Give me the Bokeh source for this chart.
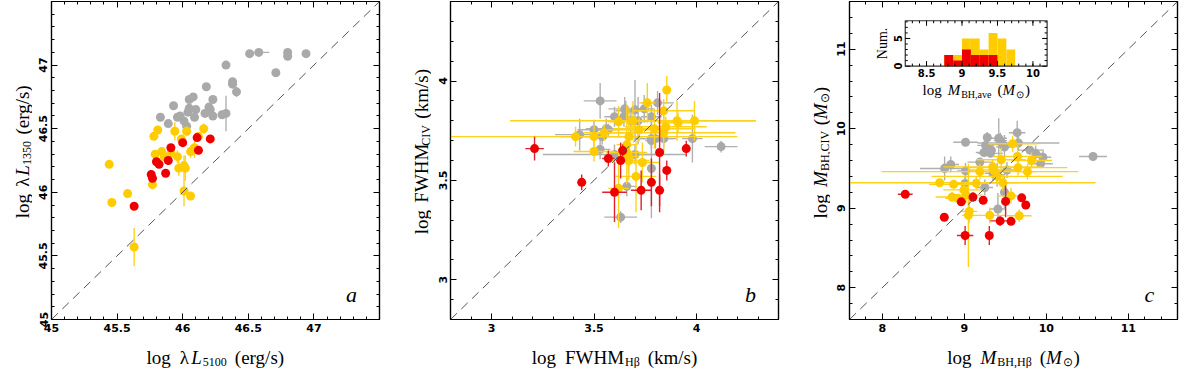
import numpy as np
from bokeh.plotting import figure
from bokeh.layouts import row, column
from bokeh.models import Range1d, LinearAxis, FixedTicker, CustomJSTickFormatter, Slope, Label
from bokeh.embed import file_html
from bokeh.resources import INLINE
from bokeh.core.properties import value

# ---------------- colours ----------------
GRAY, GOLD, RED = "#A9A9A9", "#FFCC00", "#EE0000"
GRAY_E, GOLD_E, RED_E = "#B0B0B0", "#FFD21A", "#E0202E"

# ---------------- panel a : log L5100 vs log L1350 ----------------
a_gray_x = [46.51, 46.58, 46.80, 46.80, 46.94, 46.33, 46.71, 46.38, 46.38, 46.41, 46.18, 46.08, 46.05, 46.23, 45.93,
            46.05, 46.20, 46.21, 46.10, 46.04, 46.17, 46.23, 46.30, 46.33, 45.83, 45.98, 45.96, 46.09, 45.89, 46.01, 46.03]
a_gray_y = [47.09, 47.10, 47.10, 47.07, 47.09, 47.00, 46.94, 46.87, 46.85, 46.79, 46.83, 46.75, 46.73, 46.73, 46.68,
            46.66, 46.67, 46.65, 46.65, 46.63, 46.62, 46.60, 46.61, 46.62, 46.59, 46.60, 46.59, 46.59, 46.54, 46.56, 46.52]
a_gray_xe = [0, 0.08, 0, 0, 0, 0, 0, 0, 0, 0, 0, 0, 0, 0, 0, 0, 0, 0, 0, 0, 0, 0, 0, 0.03, 0, 0, 0, 0, 0, 0, 0]
a_gray_ye = [0, 0, 0, 0, 0, 0, 0, 0, 0, 0.04, 0, 0, 0, 0, 0, 0, 0, 0, 0, 0, 0, 0, 0, 0.14, 0, 0, 0, 0, 0, 0, 0.03]

a_gold_x = [45.81, 45.78, 45.94, 46.03, 45.99, 46.12, 46.16, 45.79, 45.84, 45.86, 45.91, 45.96, 46.09, 46.06, 46.01,
            46.02, 45.97, 45.77, 45.44, 45.58, 45.46, 46.01, 46.06, 45.63]
a_gold_y = [46.49, 46.44, 46.48, 46.48, 46.42, 46.44, 46.50, 46.30, 46.32, 46.28, 46.31, 46.28, 46.35, 46.32, 46.21,
            46.19, 46.19, 46.06, 46.22, 45.99, 45.92, 46.01, 45.97, 45.57]
a_gold_xe = [0] * 24
a_gold_ye = [0, 0, 0.07, 0.04, 0.03, 0.03, 0.04, 0, 0.03, 0, 0, 0.05, 0.08, 0.05, 0.08,
             0.10, 0.06, 0, 0, 0, 0, 0.12, 0, 0.15]

a_red_x = [45.63, 45.76, 45.77, 45.80, 45.82, 45.87, 45.89, 45.91, 46.00, 46.11, 46.12, 46.21]
a_red_y = [45.89, 46.14, 46.11, 46.24, 46.22, 46.15, 46.25, 46.35, 46.39, 46.43, 46.33, 46.42]
a_red_xe = [0] * 12
a_red_ye = [0] * 12

# ---------------- panel b : log FWHM(Hb) vs log FWHM(CIV) ----------------
b_red_x = [3.21, 3.44, 3.57, 3.63, 3.64, 3.60, 3.73, 3.78, 3.82, 3.82, 3.855, 3.95]
b_red_y = [3.66, 3.49, 3.61, 3.60, 3.65, 3.44, 3.45, 3.49, 3.45, 3.64, 3.55, 3.66]
b_red_xe = [0.045, 0.01, 0.03, 0.02, 0.01, 0.06, 0.05, 0.02, 0.01, 0.01, 0.01, 0.01]
b_red_ye = [0.06, 0.04, 0.04, 0.09, 0.03, 0.15, 0.10, 0.12, 0.08, 0.30, 0.05, 0.04]

b_gold_x = [3.855, 3.76, 3.84, 3.905, 3.91, 3.99, 3.69, 3.41, 3.50, 3.55, 3.62, 3.67, 3.72, 3.795, 3.85, 3.84,
            3.50, 3.66, 3.66, 3.668, 3.67, 3.736, 3.705, 3.62]
b_gold_y = [3.955, 3.89, 3.85, 3.80, 3.79, 3.80, 3.80, 3.72, 3.72, 3.74, 3.795, 3.72, 3.755, 3.76, 3.77, 3.74,
            3.645, 3.68, 3.64, 3.62, 3.60, 3.59, 3.52, 3.46]
b_gold_xe = [0.02, 0.04, 0.15, 0.05, 0.10, 0.30, 0.60, 0.02, 0.70, 0.10, 0.05, 0.30, 0.15, 0.20, 0.20, 0.35,
             0.10, 0.05, 0.10, 0.05, 0.10, 0.08, 0.10, 0.05]
b_gold_ye = [0.07, 0.10, 0.06, 0.10, 0.05, 0.10, 0.10, 0.05, 0.06, 0.04, 0.08, 0.15, 0.06, 0.10, 0.05, 0.10,
             0.05, 0.20, 0.04, 0.08, 0.10, 0.10, 0.18, 0.20]

b_gray_x = [3.53, 3.65, 3.655, 3.70, 3.745, 3.81, 3.60, 3.646, 3.78, 3.68, 3.715, 3.50, 3.56, 3.57, 3.54, 3.43,
            3.78, 3.78, 3.80, 3.84, 3.98, 4.12, 3.53, 3.60, 3.70, 3.78, 3.66, 3.63]
b_gray_y = [3.90, 3.86, 3.85, 3.855, 3.86, 3.89, 3.82, 3.82, 3.82, 3.80, 3.80, 3.755, 3.76, 3.755, 3.72, 3.73,
            3.71, 3.70, 3.71, 3.71, 3.71, 3.67, 3.656, 3.63, 3.63, 3.56, 3.47, 3.315]
b_gray_xe = [0.08, 0.08, 0.05, 0.06, 0.05, 0.08, 0.05, 0.03, 0.05, 0.12, 0.05, 0.08, 0.10, 0.05, 0.20, 0.12,
             0.06, 0.03, 0.10, 0.05, 0.05, 0.08, 0.05, 0.35, 0.10, 0.01, 0.05, 0.08]
b_gray_ye = [0.09, 0.06, 0.05, 0.15, 0.07, 0.06, 0.05, 0.05, 0.06, 0.06, 0.12, 0.05, 0.05, 0.03, 0.04, 0.08,
             0.05, 0.04, 0.05, 0.05, 0.12, 0.03, 0.05, 0.05, 0.05, 0.25, 0.05, 0.03]

# ---------------- panel c : log M(Hb) vs log M(CIV) ----------------
c_gray_x = [9.015, 9.28, 9.26, 9.33, 9.32, 9.42, 9.44, 9.47, 9.49, 9.645, 9.66, 9.80, 9.87, 9.96, 9.93, 9.24,
            8.76, 8.835, 9.015, 9.19, 9.35, 9.40, 9.52, 9.25, 9.01, 9.49, 9.41, 10.57]
c_gray_y = [9.83, 9.89, 9.79, 9.73, 9.69, 9.88, 9.85, 9.80, 9.77, 9.95, 9.82, 9.73, 9.69, 9.64, 9.56, 9.70,
            9.50, 9.55, 9.47, 9.58, 9.44, 9.42, 9.48, 9.26, 9.31, 9.20, 8.99, 9.65]
c_gray_xe = [0.15, 0.05, 0.10, 0.05, 0.15, 0.10, 0.08, 0.15, 0.10, 0.10, 0.50, 0.15, 0.10, 0.10, 0.15, 0.10,
             0.30, 0.10, 0.10, 0.15, 0.10, 0.10, 0.10, 0.10, 0.15, 0.05, 0.10, 0.17]
c_gray_ye = [0.05, 0.07, 0.08, 0.05, 0.05, 0.25, 0.10, 0.07, 0.15, 0.15, 0.10, 0.05, 0.10, 0.10, 0.05, 0.05,
             0.15, 0.10, 0.10, 0.05, 0.10, 0.15, 0.10, 0.10, 0.10, 0.20, 0.20, 0.05]

c_gold_x = [8.70, 8.87, 8.915, 8.995, 9.02, 9.06, 9.05, 9.19, 9.345, 9.36, 9.45, 9.47, 9.57, 9.59, 9.65, 9.655,
            9.67, 9.77, 9.82, 9.31, 9.146, 8.85, 9.40]
c_gold_y = [9.32, 9.30, 9.125, 9.23, 9.165, 8.96, 8.91, 9.46, 9.52, 9.48, 9.61, 9.32, 9.155, 9.81, 9.65, 9.51,
            8.905, 9.46, 9.60, 8.91, 9.315, 9.14, 9.40]
c_gold_xe = [1.90, 0.30, 0.15, 0.25, 0.20, 0.10, 0.08, 1.20, 0.60, 0.30, 0.30, 0.20, 0.15, 0.30, 0.30, 0.60,
             0.15, 0.10, 0.25, 0.20, 0.15, 0.20, 0.80]
c_gold_ye = [0.05, 0.05, 0.05, 0.08, 0.10, 0.15, 0.65, 0.10, 0.10, 0.10, 0.15, 0.10, 0.10, 0.10, 0.15, 0.10,
             0.08, 0.10, 0.10, 0.10, 0.08, 0.06, 0.10]

c_red_x = [8.28, 8.756, 8.963, 9.01, 9.106, 9.23, 9.305, 9.437, 9.504, 9.57, 9.70, 9.75]
c_red_y = [9.176, 8.886, 9.08, 8.656, 9.14, 9.10, 8.656, 8.84, 9.085, 8.835, 9.13, 9.04]
c_red_xe = [0.09, 0.02, 0.05, 0.10, 0.03, 0.03, 0.02, 0.12, 0.03, 0.02, 0.02, 0.02]
c_red_ye = [0.03, 0.02, 0.04, 0.12, 0.06, 0.03, 0.12, 0.06, 0.20, 0.03, 0.03, 0.04]

# ---------------- inset histogram (log M_BH,ave) ----------------
HIST_EDGES = [8.75, 8.875, 9.0, 9.125, 9.25, 9.375, 9.5, 9.625, 9.75]
HIST_ALL = [2, 2, 5, 5, 3, 6, 5, 3]
HIST_RED = [2, 1, 3, 2, 2, 2, 0, 0]
INSET_XLIM = (8.2, 10.2)
INSET_YLIM = (0, 8.2)
INSET_XTICKS = [8.5, 9, 9.5, 10]
INSET_XTICK_LABELS = ["8.5", "9", "9.5", "10"]
INSET_YTICKS = [0, 5]
INSET_YTICK_LABELS = ["0", "5"]
INSET_BOX = (8.28, 10.01, 10.787, 11.358)   # where the inset sits, in panel-c data units

# ---------------- axes ----------------
A_LIM = (45, 47.5); A_MAJOR = [45, 45.5, 46, 46.5, 47]
B_LIM = (2.8, 4.4); B_MAJOR = [3, 3.5, 4]
C_LIM = (7.6, 11.6); C_MAJOR = [8, 9, 10, 11]

SERIF = "Liberation Serif"
TICKFONT = "DejaVu Sans"
FW, FH = 328, 318          # frame size
BL, BT, BB = 19, 1, 17     # borders of main figures (tick labels only)
YLW = 32                   # width of y-title strip
XLH = 32                   # height of x-title strip
MAIN_H = BT + FH + BB      # 336 -> page content 368 px high
BR_AB, BR_C = 20, 5        # right borders -> total width 399 + 399 + 384 = 1182
TS, SS = 19, 12            # title font size, subscript size
X_BASE, Y_BASE = 11, 22    # title baselines inside their strips

EM = {" ": 0.25, "l": 0.278, "o": 0.5, "g": 0.5, "(": 0.333, ")": 0.333, "e": 0.444, "r": 0.333, "/": 0.278,
      "s": 0.389, "k": 0.5, "m": 0.778, "F": 0.556, "W": 0.944, "H": 0.722, "M": 0.889, "C": 0.667, "I": 0.333,
      "V": 0.722, "B": 0.667, ",": 0.25, "a": 0.444, "v": 0.5, "λ": 0.55, "β": 0.5, "⊙": 0.8, "N": 0.722,
      "u": 0.5, ".": 0.25, "L": 0.611}
EM_IT = {"L": 0.556, "M": 0.833}


def text_w(t, size, italic):
    tot = 0.0
    for ch in t:
        if italic and ch in EM_IT:
            tot += EM_IT[ch]
        else:
            tot += EM.get(ch, 0.5)
    return tot * size


fmt = CustomJSTickFormatter(code="return String(Math.round(tick*100)/100);")


def style_axis(ax, major, minor, labels, vertical):
    ax.ticker = FixedTicker(ticks=major, minor_ticks=minor)
    ax.formatter = fmt
    ax.major_tick_in = 6
    ax.major_tick_out = 0
    ax.minor_tick_in = 3
    ax.minor_tick_out = 0
    ax.axis_line_color = "black"
    ax.axis_line_width = 1.2
    ax.major_tick_line_color = "black"
    ax.minor_tick_line_color = "black"
    ax.major_label_text_font = TICKFONT
    ax.major_label_text_font_style = "bold"
    if labels:
        ax.major_label_text_color = "black"
        ax.major_label_text_font_size = "11px"
        ax.major_label_standoff = 4
    else:
        ax.major_label_text_color = None
        ax.major_label_text_font_size = "0px"
        ax.major_label_standoff = 0
    if vertical:
        ax.major_label_orientation = "vertical"


def make_panel(lim, major, minor, br):
    p = figure(frame_width=FW, frame_height=FH, x_range=Range1d(*lim), y_range=Range1d(*lim),
               output_backend="svg", toolbar_location=None, title=None, min_border_left=BL,
               min_border_right=br, min_border_top=BT, min_border_bottom=BB)
    p.grid.visible = False
    p.outline_line_color = "black"
    p.outline_line_width = 1.2
    p.background_fill_color = "white"
    p.border_fill_color = "white"
    style_axis(p.below[0], major, minor, True, False)
    style_axis(p.left[0], major, minor, True, True)
    top = LinearAxis()
    style_axis(top, major, minor, False, False)
    p.add_layout(top, "above")
    right = LinearAxis()
    style_axis(right, major, minor, False, False)
    p.add_layout(right, "right")
    p.add_layout(Slope(gradient=1, y_intercept=0, line_color="#555555", line_dash="9 6", line_width=1))
    return p


def draw_group(p, x, y, xe, ye, color, ecolor):
    x = np.asarray(x, float); y = np.asarray(y, float)
    xe = np.asarray(xe, float); ye = np.asarray(ye, float)
    p.segment(x0=x - xe, y0=y, x1=x + xe, y1=y, line_color=ecolor, line_width=1.4)
    p.segment(x0=x, y0=y - ye, x1=x, y1=y + ye, line_color=ecolor, line_width=1.4)
    p.scatter(x=x, y=y, size=9, fill_color=color, line_color=None)


def strip(w, h):
    """A blank figure whose data units are pixels, used to hold composed axis titles."""
    f = figure(width=w, height=h, x_range=Range1d(0, w), y_range=Range1d(0, h), output_backend="svg",
               toolbar_location=None, title=None, min_border=0, x_axis_location=None, y_axis_location=None)
    f.outline_line_color = None
    f.grid.visible = False
    f.background_fill_color = "white"
    f.border_fill_color = "white"
    return f


def put_text(f, x, y, t, size, italic, angle=0.0):
    f.text(x=[x], y=[y], text=[t], angle=angle, text_align="left", text_baseline="alphabetic",
           text_font=value(SERIF), text_font_size=f"{size}px",
           text_font_style="italic" if italic else "normal", text_color="black")


def compose(f, pieces, horizontal, start, base):
    pos = start
    for t, s, it, d, g in pieces:
        pos += g
        if horizontal:
            put_text(f, pos, base - d, t, s, it)
        else:
            put_text(f, base + d, pos, t, s, it, angle=np.pi / 2)
        pos += text_w(t, s, it)


def titled(p, br, xpieces, ypieces):
    xt = strip(YLW + BL + FW + br, XLH)
    tot = sum(g + text_w(t, s, it) for t, s, it, d, g in xpieces)
    compose(xt, xpieces, True, YLW + BL + (FW - tot) / 2, X_BASE)
    yt = strip(YLW, MAIN_H)
    tot = sum(g + text_w(t, s, it) for t, s, it, d, g in ypieces)
    compose(yt, ypieces, False, BB + (FH - tot) / 2, Y_BASE)
    return column(row(yt, p), xt)


def panel_letter(p, letter):
    p.add_layout(Label(x=FW - 28, y=25, x_units="screen", y_units="screen", text=letter, text_font=SERIF,
                       text_font_style="italic", text_font_size="22px", text_align="center",
                       text_baseline="alphabetic", text_color="black"))


def minor_list(lo, hi, step):
    return [round(v, 2) for v in np.arange(lo, hi + step / 2, step)]


def pieces_L(sub):
    return [("log", TS, False, 0, 0), ("λ", TS, False, 0, 9), ("L", TS, True, 0, 1),
            (sub, SS, False, 4, 1), ("(erg/s)", TS, False, 0, 8)]


def pieces_FWHM(sub):
    return [("log", TS, False, 0, 0), ("FWHM", TS, False, 0, 9), (sub, SS, False, 4, 1),
            ("(km/s)", TS, False, 0, 8)]


def pieces_M(sub):
    return [("log", TS, False, 0, 0), ("M", TS, True, 0, 9), (sub, SS, False, 4, 1),
            ("(", TS, False, 0, 8), ("M", TS, True, 0, 0), ("⊙", SS, False, 4, 1), (")", TS, False, 0, 1)]


# ---------- panel a ----------
pa = make_panel(A_LIM, A_MAJOR, minor_list(*A_LIM, 0.1), BR_AB)
draw_group(pa, a_gray_x, a_gray_y, a_gray_xe, a_gray_ye, GRAY, GRAY_E)
draw_group(pa, a_gold_x, a_gold_y, a_gold_xe, a_gold_ye, GOLD, GOLD_E)
draw_group(pa, a_red_x, a_red_y, a_red_xe, a_red_ye, RED, RED_E)
panel_letter(pa, "a")
col_a = titled(pa, BR_AB, pieces_L("5100"), pieces_L("1350"))

# ---------- panel b ----------
pb = make_panel(B_LIM, B_MAJOR, minor_list(*B_LIM, 0.1), BR_AB)
draw_group(pb, b_gray_x, b_gray_y, b_gray_xe, b_gray_ye, GRAY, GRAY_E)
draw_group(pb, b_gold_x, b_gold_y, b_gold_xe, b_gold_ye, GOLD, GOLD_E)
draw_group(pb, b_red_x, b_red_y, b_red_xe, b_red_ye, RED, RED_E)
panel_letter(pb, "b")
col_b = titled(pb, BR_AB, pieces_FWHM("Hβ"), pieces_FWHM("CIV"))

# ---------- panel c ----------
pc = make_panel(C_LIM, C_MAJOR, minor_list(*C_LIM, 0.2), BR_C)
draw_group(pc, c_gray_x, c_gray_y, c_gray_xe, c_gray_ye, GRAY, GRAY_E)
draw_group(pc, c_gold_x, c_gold_y, c_gold_xe, c_gold_ye, GOLD, GOLD_E)
draw_group(pc, c_red_x, c_red_y, c_red_xe, c_red_ye, RED, RED_E)
panel_letter(pc, "c")


# ---------- inset (own ranges mapped onto a sub-box of panel c) ----------
def sub_range(lim, box0, box1, outer):
    f0 = (box0 - outer[0]) / (outer[1] - outer[0])
    f1 = (box1 - outer[0]) / (outer[1] - outer[0])
    span = (lim[1] - lim[0]) / (f1 - f0)
    start = lim[0] - f0 * span
    return Range1d(start, start + span)


pc.extra_x_ranges = {"ix": sub_range(INSET_XLIM, INSET_BOX[0], INSET_BOX[1], C_LIM)}
pc.extra_y_ranges = {"iy": sub_range(INSET_YLIM, INSET_BOX[2], INSET_BOX[3], C_LIM)}
IR = dict(x_range_name="ix", y_range_name="iy")

pc.quad(left=[INSET_XLIM[0]], right=[INSET_XLIM[1]], bottom=[INSET_YLIM[0]], top=[INSET_YLIM[1]],
        fill_color="white", line_color=None, **IR)
pc.quad(left=HIST_EDGES[:-1], right=HIST_EDGES[1:], bottom=0, top=HIST_ALL, fill_color=GOLD, line_color=None, **IR)
pc.quad(left=HIST_EDGES[:-1], right=HIST_EDGES[1:], bottom=0, top=HIST_RED, fill_color=RED, line_color=None, **IR)
pc.quad(left=[INSET_XLIM[0]], right=[INSET_XLIM[1]], bottom=[INSET_YLIM[0]], top=[INSET_YLIM[1]],
        fill_color=None, line_color="#333333", line_width=1.2, **IR)

ix_minor = minor_list(8.3, 10.1, 0.1)
iy_minor = list(range(1, 9))
n = len(ix_minor)
pc.ray(x=ix_minor, y=[INSET_YLIM[0]] * n, length=2.5, length_units="screen", angle=np.pi / 2, line_color="black", **IR)
pc.ray(x=ix_minor, y=[INSET_YLIM[1]] * n, length=2.5, length_units="screen", angle=-np.pi / 2, line_color="black", **IR)
m = len(INSET_XTICKS)
pc.ray(x=INSET_XTICKS, y=[INSET_YLIM[0]] * m, length=5, length_units="screen", angle=np.pi / 2, line_color="black", **IR)
pc.ray(x=INSET_XTICKS, y=[INSET_YLIM[1]] * m, length=5, length_units="screen", angle=-np.pi / 2, line_color="black", **IR)
k = len(iy_minor)
pc.ray(x=[INSET_XLIM[0]] * k, y=iy_minor, length=2.5, length_units="screen", angle=0, line_color="black", **IR)
pc.ray(x=[INSET_XLIM[1]] * k, y=iy_minor, length=2.5, length_units="screen", angle=np.pi, line_color="black", **IR)
pc.ray(x=[INSET_XLIM[0]] * 2, y=INSET_YTICKS, length=5, length_units="screen", angle=0, line_color="black", **IR)
pc.ray(x=[INSET_XLIM[1]] * 2, y=INSET_YTICKS, length=5, length_units="screen", angle=np.pi, line_color="black", **IR)

pc.text(x=INSET_XTICKS, y=[INSET_YLIM[0]] * m, text=INSET_XTICK_LABELS, y_offset=3, text_align="center",
        text_baseline="top", text_font=value(TICKFONT), text_font_style="bold", text_font_size="10px",
        text_color="black", **IR)
pc.text(x=[INSET_XLIM[0]] * 2, y=INSET_YTICKS, text=INSET_YTICK_LABELS, x_offset=-3, angle=np.pi / 2,
        text_align="center", text_baseline="bottom", text_font=value(TICKFONT), text_font_style="bold",
        text_font_size="10px", text_color="black", **IR)
pc.text(x=[INSET_XLIM[0]], y=[(INSET_YLIM[0] + INSET_YLIM[1]) / 2], text=["Num."], x_offset=-15, angle=np.pi / 2,
        text_align="center", text_baseline="bottom", text_font=value(SERIF), text_font_size="14px",
        text_color="black", **IR)

inset_title = [("log", 15, False, 0, 0), ("M", 15, True, 0, 6), ("BH,ave", 10, False, -4, 1),
               ("(", 15, False, 0, 6), ("M", 15, True, 0, 0), ("⊙", 10, False, -4, 1), (")", 15, False, 0, 1)]
tot = sum(g + text_w(t, s, it) for t, s, it, d, g in inset_title)
pos = -tot / 2
xc = (INSET_XLIM[0] + INSET_XLIM[1]) / 2
for t, s, it, d, g in inset_title:
    pos += g
    pc.text(x=[xc], y=[INSET_YLIM[0]], text=[t], x_offset=pos, y_offset=24 - d, text_align="left",
            text_baseline="alphabetic", text_font=value(SERIF), text_font_size=f"{s}px",
            text_font_style="italic" if it else "normal", text_color="black", **IR)
    pos += text_w(t, s, it)

col_c = titled(pc, BR_C, pieces_M("BH,Hβ"), pieces_M("BH,CIV"))

layout = row(col_a, col_b, col_c)
open("out.html", "w").write(file_html(layout, INLINE))
